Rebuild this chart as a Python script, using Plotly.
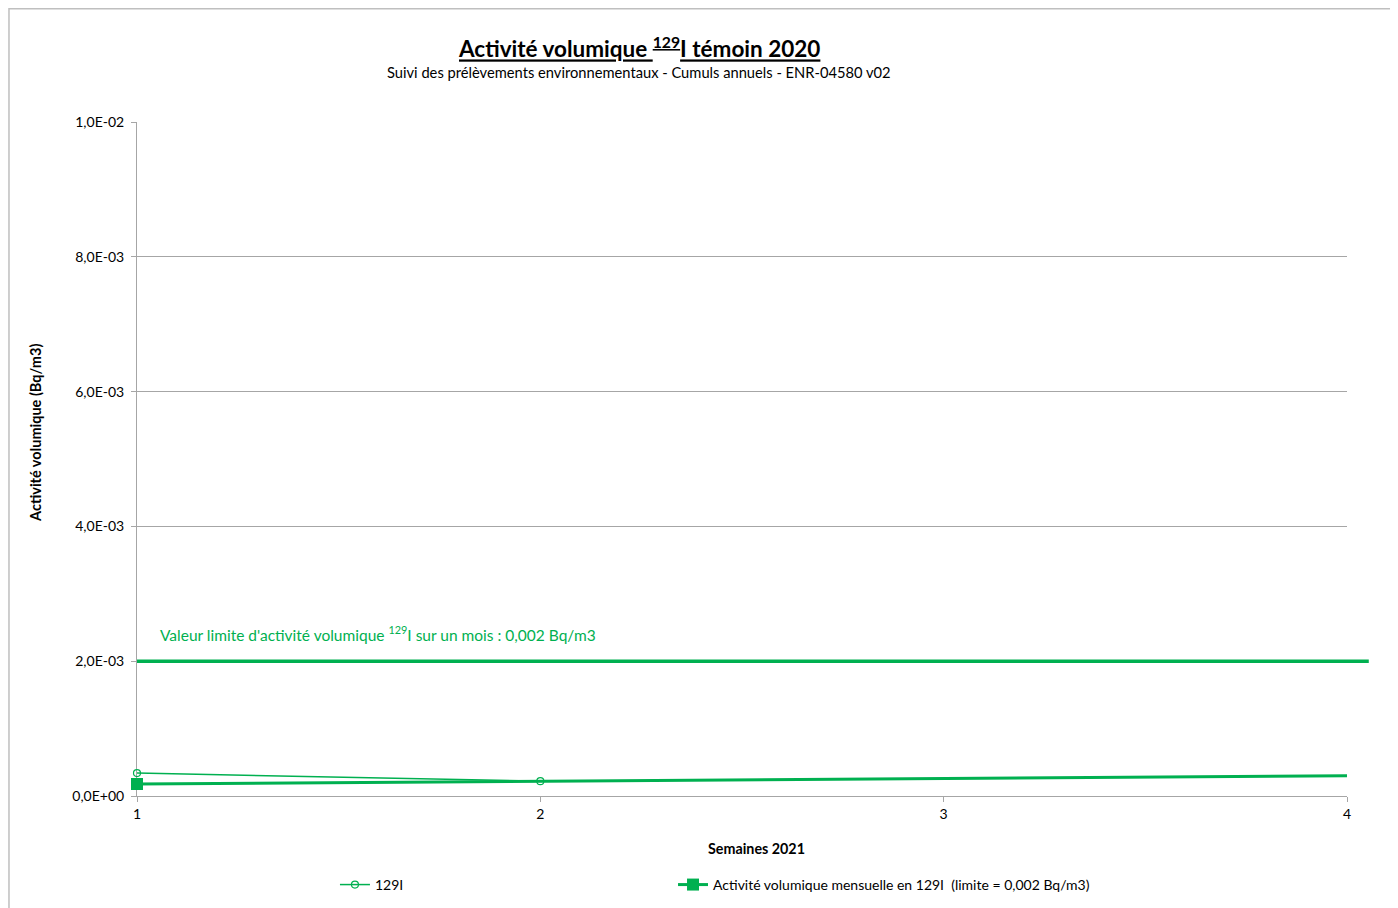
import plotly.graph_objects as go

# Data
semaines = [1, 2, 3, 4]
i129_x = [1, 2]
i129_values = [0.00034, 0.00022]
mensuelle_values = [0.000178, 0.00022, 0.00026, 0.00030]
limite = 0.002
y_ticks = [0, 0.002, 0.004, 0.006, 0.008, 0.01]
y_tick_labels = ["0,0E+00", "2,0E-03", "4,0E-03", "6,0E-03", "8,0E-03", "1,0E-02"]

GREEN = "#00B050"
FONT = "Lato"

fig = go.Figure()

fig.add_trace(go.Scatter(
    x=i129_x, y=i129_values, mode="lines+markers", name="129I",
    line=dict(color=GREEN, width=1.5),
    marker=dict(symbol="circle-open", size=7, color=GREEN, line=dict(width=1.2)),
    cliponaxis=False, legend="legend",
))
# monthly series: full line, marker shown on first point only
fig.add_trace(go.Scatter(
    x=semaines, y=mensuelle_values, mode="lines",
    line=dict(color=GREEN, width=3), showlegend=False, legendgroup="m",
))
fig.add_trace(go.Scatter(
    x=semaines[:1], y=mensuelle_values[:1], mode="lines+markers",
    name="Activité volumique mensuelle en 129I  (limite = 0,002 Bq/m3)",
    line=dict(color=GREEN, width=3),
    marker=dict(symbol="square", size=12, color=GREEN),
    cliponaxis=False, legendgroup="m", legend="legend2",
))

# limit line (extends slightly beyond plot area as in reference)
fig.add_shape(type="line", xref="paper", yref="y", x0=0, x1=1.018, y0=limite, y1=limite,
              line=dict(color=GREEN, width=3.5), layer="above")

# outer border
fig.add_shape(type="rect", xref="paper", yref="paper", x0=-0.1058, x1=1.0375, y0=-0.2, y1=1.168,
              line=dict(color="#BFBFBF", width=1.5), layer="below")

fig.add_annotation(
    xref="paper", yref="y", x=0.0175, y=limite, xanchor="left", yanchor="bottom", yshift=15,
    text="Valeur limite d'activité volumique <sup>129</sup>I sur un mois : 0,002 Bq/m3",
    showarrow=False, font=dict(family=FONT, size=15.5, color=GREEN),
)

fig.add_annotation(
    xref="paper", yref="paper", x=0.415, y=1.112, xanchor="center", yanchor="middle",
    text="<b><u>Activité volumique <sup>129</sup>I témoin 2020</u></b>",
    showarrow=False, font=dict(family=FONT, size=22.5, color="black"),
)
fig.add_annotation(
    xref="paper", yref="paper", x=0.415, y=1.074, xanchor="center", yanchor="middle",
    text="Suivi des prélèvements environnementaux - Cumuls annuels - ENR-04580 v02",
    showarrow=False, font=dict(family=FONT, size=14.7, color="black"),
)

# axis titles (placed as in reference)
fig.add_annotation(
    xref="paper", yref="paper", x=-0.0835, y=0.5386, xanchor="center", yanchor="middle",
    text="<b>Activité volumique (Bq/m3)</b>", textangle=-90,
    showarrow=False, font=dict(family=FONT, size=14.5, color="black"),
)
fig.add_annotation(
    xref="paper", yref="paper", x=0.5116, y=-0.0772, xanchor="center", yanchor="middle",
    text="<b>Semaines 2021</b>",
    showarrow=False, font=dict(family=FONT, size=14.3, color="black"),
)

legend_common = dict(orientation="h", yanchor="middle", xanchor="left",
                     font=dict(family=FONT, size=14, color="black"),
                     bgcolor="rgba(0,0,0,0)", borderwidth=0)

fig.update_layout(
    width=1390, height=900,
    margin=dict(l=129, r=51, t=114, b=112, autoexpand=False),
    paper_bgcolor="white", plot_bgcolor="white",
    font=dict(family=FONT, size=14, color="black"),
    showlegend=True,
    legend=dict(x=0.1636, y=-0.132, **legend_common),
    legend2=dict(x=0.4430, y=-0.132, **legend_common),
    xaxis=dict(range=[1, 4], tickvals=semaines, ticktext=[str(s) for s in semaines],
               showgrid=False, zeroline=False, showline=True, linecolor="#A6A6A6", linewidth=1,
               ticks="outside", ticklen=5, tickcolor="#A6A6A6", layer="below traces",
               tickfont=dict(family=FONT, size=14)),
    yaxis=dict(range=[0, 0.01], tickvals=y_ticks, ticktext=y_tick_labels,
               showgrid=True, gridcolor="#A6A6A6", gridwidth=1, zeroline=False,
               showline=True, linecolor="#A6A6A6", linewidth=1, layer="below traces",
               ticks="outside", ticklen=5, tickcolor="#A6A6A6", ticklabelstandoff=4,
               tickfont=dict(family=FONT, size=14)),
)

fig.write_html("out.html")
